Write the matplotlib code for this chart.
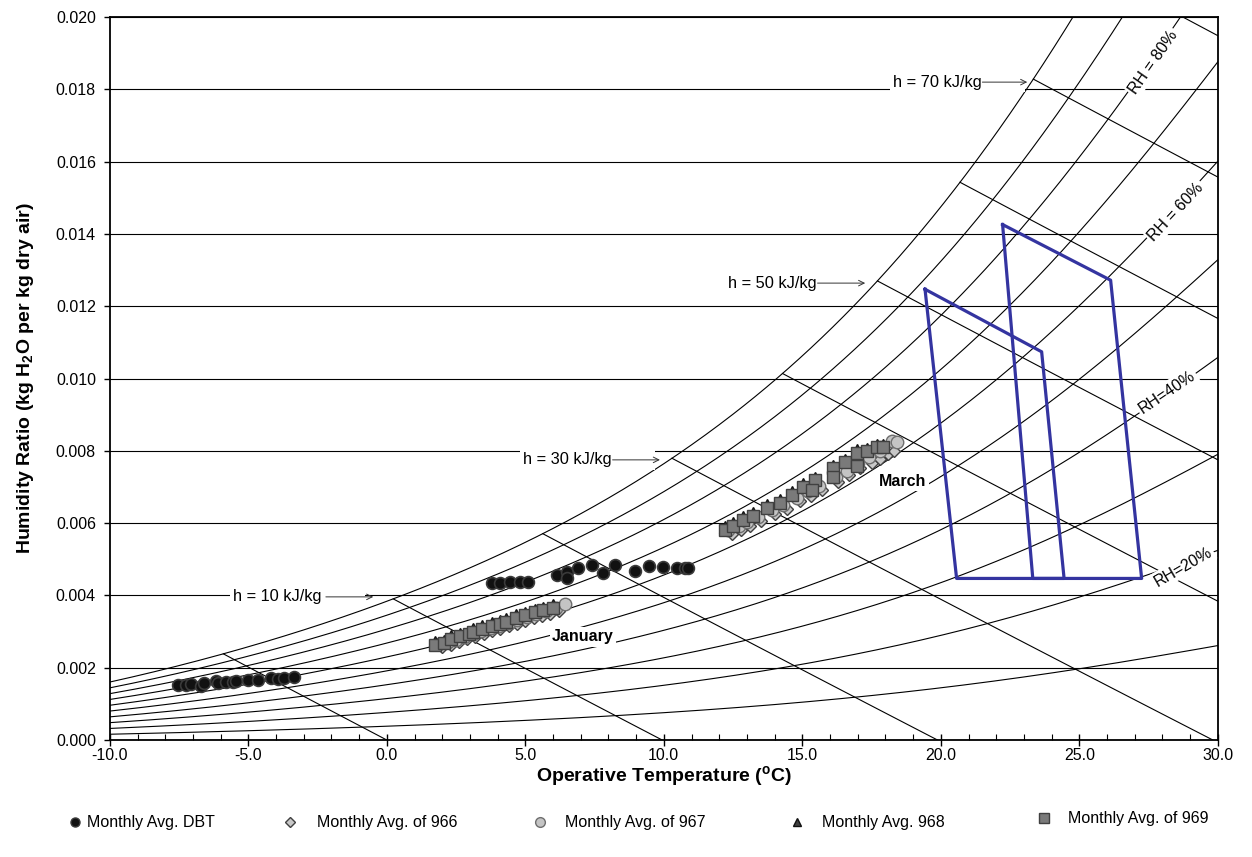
import numpy as np
import matplotlib
matplotlib.use("Agg")
import matplotlib.pyplot as plt
from matplotlib.lines import Line2D
from matplotlib.ticker import FormatStrFormatter, MultipleLocator

plt.rcParams['font.family'] = ['Liberation Sans', 'DejaVu Sans']
plt.rcParams['mathtext.fontset'] = 'custom'
plt.rcParams['mathtext.rm'] = 'Liberation Sans'
plt.rcParams['mathtext.bf'] = 'Liberation Sans:bold'
plt.rcParams['axes.unicode_minus'] = False

# saturation humidity ratio table (kg/kg, sea level)
sat_t = np.array([-10, -8, -6, -4, -2, 0, 2, 4, 6, 8, 10, 12, 14, 16, 18, 20, 22, 24, 26, 28, 30])
sat_w = np.array([0.001606, 0.001946, 0.002352, 0.002834, 0.003406, 0.003789, 0.004381, 0.005054,
                  0.005818, 0.006683, 0.007661, 0.008766, 0.010012, 0.011413, 0.012989, 0.014758,
                  0.016741, 0.018963, 0.021448, 0.024226, 0.027329])
rh_levels = [10, 20, 30, 40, 50, 60, 70, 80, 90, 100]
h_levels = [0, 10, 20, 30, 40, 50, 60, 70, 80]

# comfort zones (operative temperature, humidity ratio)
zone1_t = [19.43, 23.64, 24.45, 20.57, 19.43]
zone1_w = [0.01247, 0.01074, 0.00447, 0.00447, 0.01247]
zone2_t = [22.23, 26.13, 27.25, 23.32, 22.23]
zone2_w = [0.01426, 0.01272, 0.00447, 0.00447, 0.01426]

# monthly average DBT (January, March)
dbt_t = [-7.54, -7.25, -7.07, -6.71, -6.60, -6.16, -6.09, -5.80, -5.55, -5.44, -5.01, -4.64, -4.17, -3.92, -3.70, -3.34,
         3.78, 4.08, 4.45, 4.81, 5.10, 6.13, 6.49, 6.49, 6.90, 7.39, 7.80, 8.23, 8.96, 9.45, 9.98, 10.48, 10.77, 10.88]
dbt_w = [0.00152, 0.00152, 0.00155, 0.00149, 0.00159, 0.00163, 0.00159, 0.00161, 0.00161, 0.00163, 0.00166, 0.00166, 0.00172, 0.00170, 0.00172, 0.00175,
         0.00433, 0.00433, 0.00438, 0.00438, 0.00438, 0.00456, 0.00466, 0.00447, 0.00476, 0.00484, 0.00462, 0.00484, 0.00467, 0.00481, 0.00479, 0.00477, 0.00477, 0.00477]

# point 969 (January, March)
s969_t = [1.75, 2.05, 2.3, 2.65, 2.95, 3.1, 3.45, 3.8, 4.1, 4.3, 4.65, 5.0, 5.35, 5.65, 6.0,
          12.21, 12.50, 12.86, 13.22, 13.72, 14.19, 14.63, 15.02, 15.46, 15.35, 16.10, 16.10, 16.54, 16.97, 16.97, 17.33, 17.69, 17.91]
s969_w = [0.00264, 0.00268, 0.00280, 0.00287, 0.00292, 0.00300, 0.00308, 0.00316, 0.00322, 0.00327, 0.00338, 0.00345, 0.00353, 0.00359, 0.00366,
          0.00581, 0.00592, 0.00609, 0.00620, 0.00642, 0.00656, 0.00678, 0.00700, 0.00719, 0.00692, 0.00752, 0.00728, 0.00769, 0.00794, 0.00758, 0.00799, 0.00810, 0.00810]
# point 968
s968_t = s969_t
s968_w = [w + 0.00007 for w in s969_w]
# point 966
s966_t = [2.0, 2.3, 2.6, 2.9, 3.2, 3.5, 3.8, 4.1, 4.4, 4.7, 5.0, 5.3, 5.6, 5.9, 6.2,
          12.45, 12.8, 13.1, 13.5, 14.0, 14.45, 14.9, 15.3, 15.7, 16.3, 16.7, 17.1, 17.5, 17.8, 18.1, 18.3]
s966_w = [0.00258, 0.00264, 0.00272, 0.00280, 0.00286, 0.00294, 0.00301, 0.00308, 0.00315, 0.00322, 0.00329, 0.00337, 0.00343, 0.00350, 0.00358,
          0.00570, 0.00582, 0.00592, 0.00606, 0.00624, 0.00640, 0.00660, 0.00676, 0.00692, 0.00714, 0.00732, 0.00752, 0.00766, 0.00778, 0.00790, 0.00800]
# point 967
s967_t = [1.9, 2.2, 2.5, 2.8, 3.1, 3.4, 3.75, 4.05, 4.4, 4.7, 5.05, 5.4, 5.75, 6.1, 6.45,
          12.3, 12.7, 13.0, 13.4, 13.9, 14.3, 14.8, 15.2, 15.6, 16.2, 16.6, 17.0, 17.4, 17.8, 18.24, 18.42]
s967_w = [0.00265, 0.00270, 0.00278, 0.00286, 0.00293, 0.00301, 0.00309, 0.00316, 0.00324, 0.00331, 0.00339, 0.00348, 0.00356, 0.00365, 0.00375,
          0.00580, 0.00592, 0.00604, 0.00618, 0.00636, 0.00650, 0.00670, 0.00688, 0.00704, 0.00728, 0.00745, 0.00765, 0.00782, 0.00800, 0.00827, 0.00824]

legend_labels = ['Monthly Avg. DBT', 'Monthly Avg. of 966', 'Monthly Avg. of 967', 'Monthly Avg. 968', 'Monthly Avg. of 969']

fig = plt.figure(figsize=(12.52, 8.57), dpi=100)
ax = fig.add_axes([0.0877, 0.1365, 0.8850, 0.8436])

# relative humidity curves (smooth fit through the saturation table)
P = 101.325
sat_p = P * sat_w / (0.622 + sat_w)
coef = np.polyfit(sat_t, np.log(sat_p), 4)
tt = np.linspace(-10, 30, 401)
pws = np.exp(np.polyval(coef, tt))
for rh in rh_levels:
    p = rh / 100 * pws
    ax.plot(tt, 0.622 * p / (P - p), color='k', lw=0.8, zorder=2)

# enthalpy lines from the saturation curve down to W = 0
w_sat = 0.622 * pws / (P - pws)
h_sat = 1.006 * tt + w_sat * (2501 + 1.86 * tt)
for h in h_levels:
    t0 = np.interp(h, h_sat, tt)
    t = np.linspace(t0, h / 1.006, 60)
    ax.plot(t, (h - 1.006 * t) / (2501 + 1.86 * t), color='k', lw=0.8, zorder=2)

# comfort zones
blue = '#3434a0'
ax.plot(zone1_t, zone1_w, color=blue, lw=2.3, zorder=3)
ax.plot(zone2_t, zone2_w, color=blue, lw=2.3, zorder=3)

# data series
styles = [dict(marker='o', mfc='#111111', mec='#3a3a3a'),
          dict(marker='D', mfc='#c8c8c8', mec='#404040'),
          dict(marker='o', mfc='#c4c4c4', mec='#6e6e6e'),
          dict(marker='^', mfc='#404040', mec='#111111'),
          dict(marker='s', mfc='#7a7a7a', mec='#404040')]
ax.plot(dbt_t, dbt_w, ls='', ms=8.5, mew=1.2, zorder=5, **styles[0])
ax.plot(s966_t, s966_w, ls='', ms=6.5, mew=1.0, zorder=5, **styles[1])
ax.plot(s967_t, s967_w, ls='', ms=9, mew=1.0, zorder=5, **styles[2])
ax.plot(s968_t, s968_w, ls='', ms=8, mew=1.0, zorder=5, **styles[3])
ax.plot(s969_t, s969_w, ls='', ms=9, mew=1.0, zorder=5, **styles[4])

# labels
wbox = dict(fc='white', ec='none', pad=1.5)
ax.text(27.66, 0.01876, 'RH = 80%', rotation=55, ha='center', va='center', fontsize=11.5, bbox=wbox, zorder=4)
ax.text(28.49, 0.01461, 'RH = 60%', rotation=47, ha='center', va='center', fontsize=11.5, bbox=wbox, zorder=4)
ax.text(28.16, 0.00963, 'RH=40%', rotation=34, ha='center', va='center', fontsize=11.5, bbox=wbox, zorder=4)
ax.text(28.74, 0.00479, 'RH=20%', rotation=30, ha='center', va='center', fontsize=11.5, bbox=wbox, zorder=4)
ax.text(7.08, 0.00285, 'January', ha='center', va='center', fontsize=11.5, fontweight='bold', bbox=wbox, zorder=4)
ax.text(18.63, 0.00714, 'March', ha='center', va='center', fontsize=11.5, fontweight='bold', bbox=wbox, zorder=4)

for label, tx, ty, a0, a1 in [('h = 10 kJ/kg', -5.55, 0.00396, -2.2, -0.49),
                              ('h = 30 kJ/kg', 4.92, 0.00775, 8.15, 9.86),
                              ('h = 50 kJ/kg', 12.32, 0.01264, 15.55, 17.27),
                              ('h = 70 kJ/kg', 18.28, 0.01820, 21.5, 23.12)]:
    ax.text(tx, ty, label + '         ', ha='left', va='center', fontsize=11.8,
            bbox=dict(fc='white', ec='none', pad=2), zorder=4)
    ax.annotate('', xy=(a1, ty), xytext=(a0, ty),
                arrowprops=dict(arrowstyle='->', lw=0.7, color='#333333',
                                shrinkA=0, shrinkB=0, mutation_scale=10), zorder=4)

ax.set_xlim(-10, 30)
ax.set_ylim(0, 0.02)
ax.xaxis.set_major_locator(MultipleLocator(5))
ax.xaxis.set_minor_locator(MultipleLocator(1))
ax.yaxis.set_major_locator(MultipleLocator(0.002))
ax.xaxis.set_major_formatter(FormatStrFormatter('%.1f'))
ax.yaxis.set_major_formatter(FormatStrFormatter('%.3f'))
ax.tick_params(axis='x', which='major', direction='inout', length=8, width=1, labelsize=11.5, pad=1.5)
ax.tick_params(axis='x', which='minor', direction='in', length=4, width=0.8)
ax.tick_params(axis='y', which='major', direction='out', length=4, width=1, labelsize=11.5, pad=6)
ax.yaxis.grid(True, color='k', lw=0.8)
ax.set_axisbelow(True)
for s in ax.spines.values():
    s.set_linewidth(1.3)

ax.set_xlabel(r'Operative Temperature ($^\mathbf{o}$C)', fontsize=14, fontweight='bold', labelpad=1)
ax.set_ylabel(r'Humidity Ratio (kg H$_\mathbf{2}$O per kg dry air)', fontsize=14, fontweight='bold', labelpad=14)

# legend, laid out by hand below the axes
leg_ms = [6.5, 5, 7, 6, 6.5]
leg_marker_x = [75, 290, 540, 797, 1044]
leg_text_x = [87, 317, 565, 822, 1068]
leg_y = [822, 822, 822, 822, 818]
for i, lab in enumerate(legend_labels):
    fy = 1 - leg_y[i] / 857
    fig.add_artist(Line2D([leg_marker_x[i] / 1252], [fy], transform=fig.transFigure, ls='',
                          ms=leg_ms[i], mew=1.0, **styles[i]))
    fig.text(leg_text_x[i] / 1252, fy, lab, ha='left', va='center', fontsize=11.5)

fig.savefig('out.png', dpi=100)
